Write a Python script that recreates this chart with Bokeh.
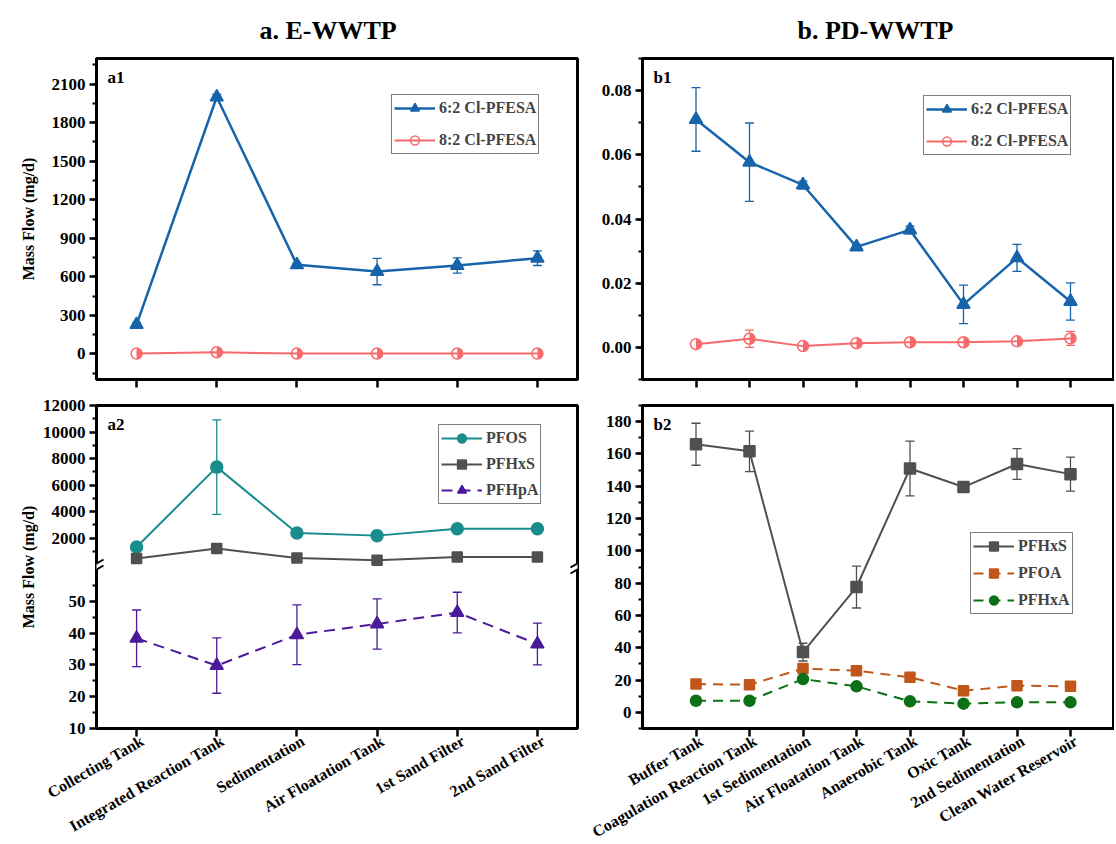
import math
from bokeh.plotting import figure
from bokeh.layouts import column, row
from bokeh.models import (Range1d, FixedTicker, SingleIntervalTicker, Legend, LegendItem,
                          Whisker, TeeHead, ColumnDataSource, Label, PolyAnnotation, Arrow,
                          NumeralTickFormatter)
from bokeh.transform import dodge
from bokeh.embed import file_html
from bokeh.resources import INLINE

# ---------------- data ----------------
A_CATS = ["Collecting Tank", "Integrated Reaction Tank", "Sedimentation",
          "Air Floatation Tank", "1st Sand Filter", "2nd Sand Filter"]
B_CATS = ["Buffer Tank", "Coagulation Reaction Tank", "1st Sedimentation",
          "Air Floatation Tank", "Anaerobic Tank", "Oxic Tank", "2nd Sedimentation",
          "Clean Water Reservoir"]

A1_CL62 = [228, 2000, 693, 641, 688, 745]
A1_CL62_ERR = [15, 20, 15, 103, 60, 57]
A1_CL82 = [2, 12, 2, 2, 2, 2]
A1_CL82_ERR = [1, 3, 1, 1, 1, 1]

A2_PFOS = [1320, 7350, 2375, 2180, 2705, 2705]
A2_PFOS_ERR = [150, 3560, 150, 120, 100, 100]
A2_PFHXS = [445, 1200, 490, 317, 565, 565]
A2_PFHXS_ERR = [40, 90, 40, 30, 40, 40]
A2_PFHPA = [38.4, 29.8, 39.5, 42.9, 46.5, 36.6]
A2_PFHPA_ERR = [8.9, 8.7, 9.4, 7.9, 6.4, 6.6]

B1_CL62 = [0.0710, 0.0577, 0.0506, 0.0313, 0.0366, 0.0134, 0.0279, 0.0143]
B1_CL62_ERR = [0.0099, 0.0122, 0.0012, 0.0008, 0.0012, 0.0060, 0.0042, 0.0058]
B1_CL82 = [0.0010, 0.0027, 0.0004, 0.0013, 0.0016, 0.0016, 0.0019, 0.0028]
B1_CL82_ERR = [0.0004, 0.0027, 0.0003, 0.0004, 0.0004, 0.0005, 0.0003, 0.0022]

B2_PFHXS = [166, 161.6, 37.3, 77.6, 151, 139.5, 153.8, 147.5]
B2_PFHXS_ERR = [13, 12.5, 5.5, 13, 17, 2, 9.5, 10.5]
B2_PFOA = [17.5, 17.1, 27.1, 25.8, 21.7, 13.4, 16.5, 16.1]
B2_PFOA_ERR = [1, 1, 1.5, 1, 1, 1, 1, 1]
B2_PFHXA = [7.2, 7.2, 20.6, 16.1, 6.8, 5.4, 6.2, 6.2]
B2_PFHXA_ERR = [0.5, 0.5, 1.5, 1, 0.5, 0.5, 0.5, 0.5]

A1_YLIM = (-200, 2300)
A2_HIGH_LIM = (-150, 12000)
A2_LOW_LIM = (10, 61)
A2_HIGH_TICKS = [2000, 4000, 6000, 8000, 10000, 12000]
A2_HIGH_MINOR = [1000, 3000, 5000, 7000, 9000, 11000]
A2_LOW_TICKS = [10, 20, 30, 40, 50]
A2_LOW_MINOR = [15, 25, 35, 45, 55]
B1_YLIM = (-0.01, 0.09)
B2_YLIM = (-10, 190)

# ---------------- style ----------------
FONT = "Liberation Serif"
BLUE = "#1764AB"
RED = "#F8696B"
TEAL = "#198C8C"
GRAY = "#505050"
PURPLE = "#4B1A9A"
ORANGE = "#C1561A"
GREEN = "#0B7016"

A_FW, B_FW = 481, 472
TOP_FH, BOT_FH = 321, 323
A_BL, A_BR, B_BL, B_BR = 96, 2, 63, 0
TOP_BT, TOP_BB, BOT_BT, BOT_BB = 57, 13, 13, 113
B_STEP_PX = 53.5
LABEL_SHIFT_PX = 6
SPLIT = 162 / 323  # lower share of the a2 frame


def make_fig(xr, yr, fw, fh, bl, br, bt, bb):
    p = figure(x_range=xr, y_range=yr, frame_width=fw, frame_height=fh,
               min_border_left=bl, min_border_right=br, min_border_top=bt,
               min_border_bottom=bb, output_backend="svg", toolbar_location=None,
               background_fill_color="white", border_fill_color="white",
               outline_line_color="black", outline_line_width=3)
    p.grid.visible = False
    return p


def style_axes(p, cats, show_labels):
    for ax in p.axis:
        ax.axis_line_width = 3
        ax.axis_line_color = "black"
        ax.major_tick_line_width = 2.5
        ax.minor_tick_line_width = 2
        ax.major_tick_in = 0
        ax.major_tick_out = 7
        ax.minor_tick_in = 0
        ax.minor_tick_out = 4
        ax.major_label_text_font = FONT
        ax.major_label_text_font_style = "bold"
        ax.major_label_text_font_size = "17px"
        ax.major_label_text_color = "black"
        ax.major_label_standoff = 4
        ax.axis_label_text_font = FONT
        ax.axis_label_text_font_style = "bold"
        ax.axis_label_text_font_size = "16px"
        ax.axis_label_text_color = "black"
    xa = p.xaxis[0]
    idx = list(range(len(cats)))
    if show_labels:
        px_x = (p.x_range.end - p.x_range.start) / p.frame_width
        lab_pos = [round(i + LABEL_SHIFT_PX * px_x, 6) for i in idx]
        # tick marks at the categories (as minor ticks), labels slightly offset
        xa.ticker = FixedTicker(ticks=lab_pos, minor_ticks=idx)
        xa.major_tick_out = 0
        xa.major_tick_line_color = None
        xa.minor_tick_out = 8
        xa.minor_tick_line_width = 2.5
        xa.major_label_overrides = {pos: c for pos, c in zip(lab_pos, cats)}
        xa.major_label_orientation = math.pi / 6
        xa.major_label_standoff = 3
        xa.major_label_text_font_size = "16px"
    else:
        xa.ticker = FixedTicker(ticks=idx)
        xa.major_tick_out = 8
        xa.major_label_text_font_size = "1px"
        xa.major_label_text_color = None
        xa.major_label_text_alpha = 0
        xa.major_label_standoff = 0


def series(p, y, err, color, marker, size, dash="solid", lw=2.0, fill=None,
           range_name="default", half=False):
    x = list(range(len(y)))
    src = ColumnDataSource(dict(x=x, y=y,
                                lo=[v - e for v, e in zip(y, err)],
                                hi=[v + e for v, e in zip(y, err)]))
    w = Whisker(source=src, base="x", upper="hi", lower="lo", line_color=color,
                line_width=1.3, y_range_name=range_name,
                upper_head=TeeHead(size=9, line_color=color, line_width=1.3),
                lower_head=TeeHead(size=9, line_color=color, line_width=1.3))
    p.add_layout(w)
    if half:
        # half-filled circle: red disc, left half masked white, line and outline on top
        px_x = (p.x_range.end - p.x_range.start) / p.frame_width
        p.scatter("x", "y", source=src, marker="circle", size=size, fill_color=color,
                  line_color=None, y_range_name=range_name)
        p.scatter(x=dodge("x", -(size / 2) * px_x), y="y", source=src, marker="square",
                  size=size, fill_color="white", line_color=None, y_range_name=range_name)
        rl = p.line("x", "y", source=src, line_color=color, line_width=lw,
                    line_dash=dash, y_range_name=range_name)
        rm = p.scatter("x", "y", source=src, marker="circle", size=size,
                       fill_color=None, line_color=color, line_width=1.5,
                       y_range_name=range_name)
    else:
        rl = p.line("x", "y", source=src, line_color=color, line_width=lw,
                    line_dash=dash, y_range_name=range_name)
        rm = p.scatter("x", "y", source=src, marker=marker, size=size,
                       fill_color=fill if fill else color, line_color=color,
                       line_width=1.5, y_range_name=range_name)
    return [rl, rm]


def add_legend(p, items, loc, spacing, pad=2):
    leg = Legend(items=[LegendItem(label=l, renderers=r) for l, r in items],
                 location=loc, glyph_width=41, glyph_height=22, label_height=22,
                 spacing=spacing, padding=pad, margin=0, label_standoff=4,
                 label_text_font=FONT, label_text_font_style="bold",
                 label_text_font_size="16px", border_line_color="black",
                 border_line_width=1.5, background_fill_color="white")
    p.add_layout(leg)


def panel_label(p, text):
    p.add_layout(Label(x=p.x_range.start, y=p.y_range.end, x_offset=11, y_offset=-9,
                       text=text, text_baseline="top", text_align="left",
                       text_font=FONT, text_font_style="bold",
                       text_font_size="17px", text_color="black"))


def set_title(p, text, offset):
    p.title.text = text
    p.title.align = "left"
    p.title.offset = offset
    p.title.text_font = FONT
    p.title.text_font_style = "bold"
    p.title.text_font_size = "26px"
    p.title.text_line_height = 1.0
    p.title.text_color = "black"
    p.title.standoff = 27


# ---------------- ranges ----------------
a_x = (-0.5, len(A_CATS) - 0.5)
b_x = (-1.0, -1.0 + B_FW / B_STEP_PX)

# ---------------- a1 ----------------
a1 = make_fig(Range1d(*a_x), Range1d(*A1_YLIM), A_FW, TOP_FH, A_BL, A_BR, TOP_BT, TOP_BB)
set_title(a1, "a. E-WWTP", 163)
style_axes(a1, A_CATS, False)
a1.yaxis[0].ticker = SingleIntervalTicker(interval=300, num_minor_ticks=2)
a1.yaxis[0].axis_label = "Mass Flow (mg/d)"
a1.yaxis[0].axis_label_standoff = 12
r62 = series(a1, A1_CL62, A1_CL62_ERR, BLUE, "triangle", 13, lw=2.5)
r82 = series(a1, A1_CL82, A1_CL82_ERR, RED, "circle", 11, half=True)
add_legend(a1, [("6:2 Cl-PFESA", r62), ("8:2 Cl-PFESA", r82)], (295, 225), 10)
panel_label(a1, "a1")

# ---------------- b1 ----------------
b1 = make_fig(Range1d(*b_x), Range1d(*B1_YLIM), B_FW, TOP_FH, B_BL, B_BR, TOP_BT, TOP_BB)
set_title(b1, "b. PD-WWTP", 155)
style_axes(b1, B_CATS, False)
b1.yaxis[0].ticker = SingleIntervalTicker(interval=0.02, num_minor_ticks=2)
b1.yaxis[0].formatter = NumeralTickFormatter(format="0.00")
s62 = series(b1, B1_CL62, B1_CL62_ERR, BLUE, "triangle", 13, lw=2.5)
s82 = series(b1, B1_CL82, B1_CL82_ERR, RED, "circle", 11, half=True)
add_legend(b1, [("6:2 Cl-PFESA", s62), ("8:2 Cl-PFESA", s82)], (281, 224), 10)
panel_label(b1, "b1")

# ---------------- a2 (broken axis) ----------------
lo0, lo1 = A2_LOW_LIM
low_range = Range1d(lo0, lo0 + (lo1 - lo0) / SPLIT)
hi0, hi1 = A2_HIGH_LIM
high_range = Range1d(hi1 - (hi1 - hi0) / (1 - SPLIT), hi1)


def high_to_low(v):
    f = (v - high_range.start) / (high_range.end - high_range.start)
    return round(low_range.start + f * (low_range.end - low_range.start), 6)


a2 = make_fig(Range1d(*a_x), low_range, A_FW, BOT_FH, A_BL, A_BR, BOT_BT, BOT_BB)
a2.extra_y_ranges = {"high": high_range}
style_axes(a2, A_CATS, True)
hi_pos = [high_to_low(v) for v in A2_HIGH_TICKS]
a2.yaxis[0].ticker = FixedTicker(ticks=A2_LOW_TICKS + hi_pos,
                                 minor_ticks=A2_LOW_MINOR + [high_to_low(v) for v in A2_HIGH_MINOR])
a2.yaxis[0].major_label_overrides = {pos: str(v) for pos, v in zip(hi_pos, A2_HIGH_TICKS)}
a2.yaxis[0].axis_label = "Mass Flow (mg/d)"
a2.yaxis[0].axis_label_standoff = 3
q1 = series(a2, A2_PFOS, A2_PFOS_ERR, TEAL, "circle", 12, range_name="high")
q2 = series(a2, A2_PFHXS, A2_PFHXS_ERR, GRAY, "square", 10, range_name="high")
q3 = series(a2, A2_PFHPA, A2_PFHPA_ERR, PURPLE, "triangle", 13, dash="11 7")
add_legend(a2, [("PFOS", q1), ("PFHxS", q2), ("PFHpA", q3)], (342, 224), 4, pad=2)
panel_label(a2, "a2")

# break marks on both vertical frame edges
px_x = (a_x[1] - a_x[0]) / A_FW
px_y = (low_range.end - low_range.start) / BOT_FH
for xe in a_x:
    a2.add_layout(PolyAnnotation(
        xs=[xe - 7 * px_x, xe + 7 * px_x, xe + 7 * px_x, xe - 7 * px_x],
        ys=[lo1 - 7 * px_y, lo1 + 1 * px_y, lo1 + 7 * px_y, lo1 - 1 * px_y],
        fill_color="white", fill_alpha=1, line_color=None))
    for d in (-3, 3):
        a2.add_layout(Arrow(end=None, x_start=xe - 7 * px_x, y_start=lo1 + (d - 4) * px_y,
                            x_end=xe + 7 * px_x, y_end=lo1 + (d + 4) * px_y,
                            line_color="black", line_width=2))

# ---------------- b2 ----------------
b2 = make_fig(Range1d(*b_x), Range1d(*B2_YLIM), B_FW, BOT_FH, B_BL, B_BR, BOT_BT, BOT_BB)
style_axes(b2, B_CATS, True)
b2.yaxis[0].ticker = SingleIntervalTicker(interval=20, num_minor_ticks=2)
t1 = series(b2, B2_PFHXS, B2_PFHXS_ERR, GRAY, "square", 11)
t2 = series(b2, B2_PFOA, B2_PFOA_ERR, ORANGE, "square", 10, dash="10 7")
t3 = series(b2, B2_PFHXA, B2_PFHXA_ERR, GREEN, "circle", 11, dash="10 7")
add_legend(b2, [("PFHxS", t1), ("PFOA", t2), ("PFHxA", t3)], (328, 114), 5, pad=2)
panel_label(b2, "b2")

layout = column(row(a1, b1), row(a2, b2))
open("out.html", "w").write(file_html(layout, INLINE))
